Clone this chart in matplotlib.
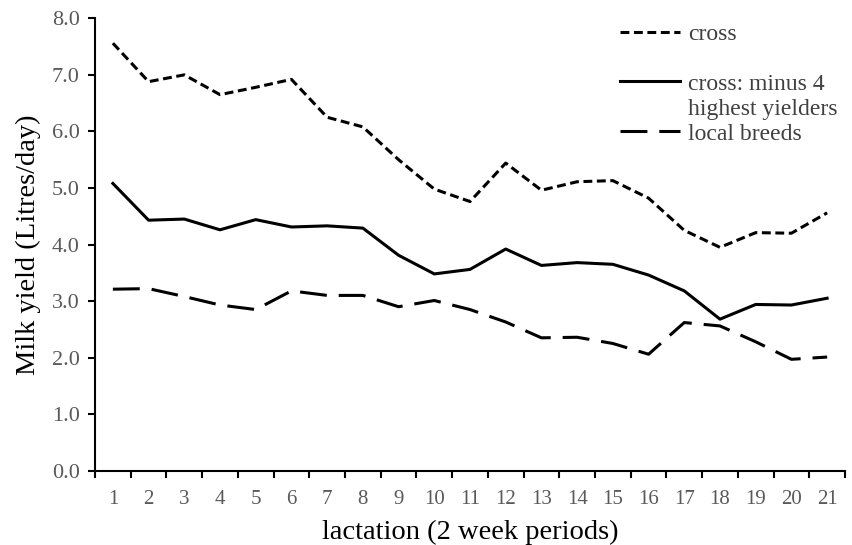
import matplotlib
matplotlib.use("Agg")
import matplotlib.pyplot as plt
from matplotlib.lines import Line2D
import numpy as np

periods = [str(i) for i in range(1, 22)]
cross = [7.56, 6.88, 7.00, 6.65, 6.78, 6.92, 6.25, 6.08, 5.50, 4.98, 4.76,
         5.44, 4.96, 5.11, 5.13, 4.82, 4.25, 3.95, 4.21, 4.20, 4.56]
cross_minus4 = [5.08, 4.43, 4.45, 4.26, 4.44, 4.31, 4.33, 4.29, 3.81, 3.48, 3.56,
                3.92, 3.63, 3.68, 3.65, 3.46, 3.18, 2.68, 2.94, 2.93, 3.05]
local = [3.21, 3.22, 3.08, 2.93, 2.85, 3.18, 3.10, 3.10, 2.90, 3.01, 2.85,
         2.63, 2.35, 2.36, 2.25, 2.06, 2.62, 2.56, 2.28, 1.97, 2.01]
yticks = [0, 1, 2, 3, 4, 5, 6, 7, 8]

plt.rcParams['font.family'] = ['Liberation Serif', 'DejaVu Serif']

fig = plt.figure(figsize=(8.53, 5.45), dpi=100)
ax = fig.add_axes([0.1114, 0.1363, 0.8792, 0.8301])

x = np.arange(1, len(periods) + 1)
lw = 2.2
dash_short = (0, (2.9, 1.5))
dash_long = (0, (8.8, 3.9))
ax.plot(x, cross, color='black', lw=lw, ls=dash_short)
ax.plot(x, cross_minus4, color='black', lw=lw, ls='-')
ax.plot(x, local, color='black', lw=lw, ls=dash_long)

ax.set_xlim(0.5, len(periods) + 0.5)
ax.set_ylim(0, 8)
ax.set_yticks(yticks)
ax.set_yticklabels([f"{v:.1f}" for v in yticks])
ax.set_xticks(x)
ax.set_xticklabels(periods)
ax.set_xticks(np.arange(0.5, len(periods) + 1, 1), minor=True)
ax.tick_params(axis='x', which='major', length=0, pad=14, labelsize=15, labelcolor='#595959')
ax.tick_params(axis='x', which='minor', length=5, width=1.5, direction='out')
ax.tick_params(axis='y', length=5, width=1.5, direction='out', labelsize=16,
               labelcolor='#595959', pad=6)

for s in ['top', 'right']:
    ax.spines[s].set_visible(False)
for s in ['left', 'bottom']:
    ax.spines[s].set_linewidth(1.5)

ax.set_xlabel('lactation (2 week periods)', fontsize=20.5, labelpad=8)
ax.set_ylabel('Milk yield (Litres/day)', fontsize=20.5, labelpad=8)

handles = [
    Line2D([], [], color='black', lw=lw, ls=dash_short),
    Line2D([], [], color='none'),
    Line2D([], [], color='black', lw=lw, ls='-'),
    Line2D([], [], color='none'),
    Line2D([], [], color='black', lw=lw, ls=dash_long),
]
labels = ['cross', ' ', 'cross: minus 4', 'highest yielders', 'local breeds']
leg = ax.legend(handles, labels, loc='upper left', bbox_to_anchor=(0.70, 0.989),
                frameon=False, fontsize=17, handlelength=2.55, handletextpad=0.34,
                labelspacing=0.145, borderaxespad=0.0, borderpad=0.0)
for t in leg.get_texts():
    t.set_color('#404040')

fig.savefig('out.png', dpi=100)
